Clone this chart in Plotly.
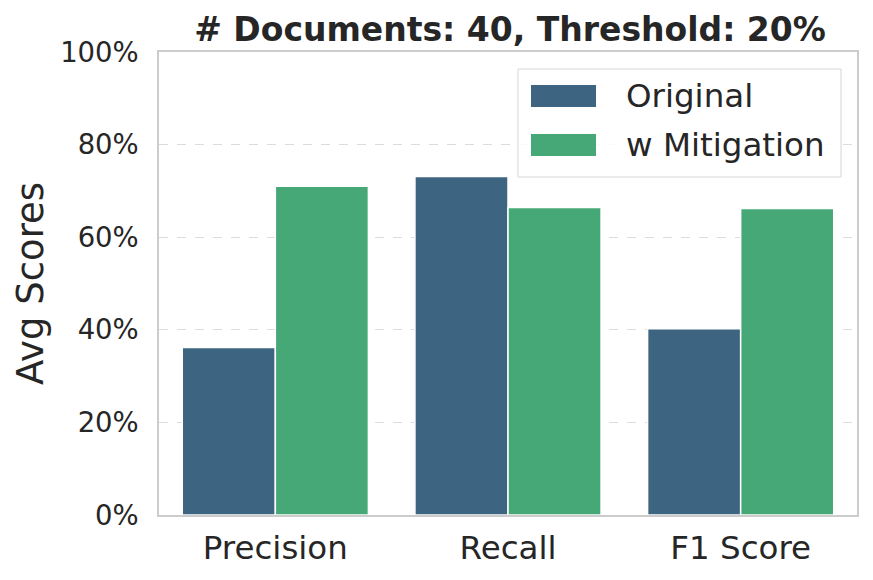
import plotly.graph_objects as go

categories = ["Precision", "Recall", "F1 Score"]
series_names = ["Original", "w Mitigation"]
original = [0.362, 0.731, 0.402]
mitigation = [0.710, 0.664, 0.662]
y_ticks = [0, 0.2, 0.4, 0.6, 0.8, 1.0]
y_tick_labels = ["0%", "20%", "40%", "60%", "80%", "100%"]
colors = ["#3d6480", "#46a877"]
title = "# Documents: 40, Threshold: 20%"

FONT = "DejaVu Sans"
TXT = "#262626"

fig = go.Figure()
for name, vals, col in zip(series_names, [original, mitigation], colors):
    fig.add_trace(go.Bar(x=categories, y=vals, name=name, marker=dict(color=col, line=dict(color="white", width=1.5)),
                         showlegend=False))

W, H = 873, 580
ml, mr, mt, mb = 159, 16, 52, 65
pw, ph = W - ml - mr, H - mt - mb

def px(x):
    return (x - ml) / pw

def py(y):
    return (H - mb - y) / ph

shapes = [
    dict(type="rect", xref="paper", yref="paper", x0=px(518), x1=px(841), y0=py(177), y1=py(69),
         line=dict(color="#d6d6d6", width=1), fillcolor="rgba(255,255,255,0.85)", layer="above"),
]
annotations = []
sw = [(85, 107), (134, 156)]
for (t, b), col, name in zip(sw, colors, series_names):
    shapes.append(dict(type="rect", xref="paper", yref="paper", x0=px(531), x1=px(596), y0=py(b), y1=py(t),
                       line=dict(width=0), fillcolor=col, layer="above"))
    annotations.append(dict(xref="paper", yref="paper", x=px(624), y=py((t + b) / 2), text=name, showarrow=False,
                            xanchor="left", yanchor="middle", font=dict(family=FONT, size=32.5, color=TXT)))

fig.update_layout(
    width=W, height=H,
    margin=dict(l=ml, r=mr, t=mt, b=mb),
    paper_bgcolor="white", plot_bgcolor="white",
    barmode="group", bargap=0.2, bargroupgap=0,
    title=dict(text="<b>" + title + "</b>", x=px(510), xref="paper", xanchor="center", y=1 - 29 / H, yanchor="middle",
               font=dict(family=FONT, size=33, color=TXT)),
    font=dict(family=FONT, color=TXT),
    shapes=shapes, annotations=annotations,
)
fig.update_xaxes(showgrid=False, showline=True, linecolor="#cccccc", linewidth=1.5, mirror=True,
                 tickfont=dict(family=FONT, size=32.5, color=TXT), ticks="", ticklabelstandoff=3)
fig.update_yaxes(range=[0, 1], tickvals=y_ticks, ticktext=y_tick_labels, showgrid=True, gridcolor="#dcdcdc",
                 griddash="dash", gridwidth=1, showline=True, linecolor="#cccccc", linewidth=1.5, mirror=True,
                 zeroline=False, ticks="", ticklabelstandoff=13,
                 tickfont=dict(family=FONT, size=27.5, color=TXT),
                 title=dict(text="Avg Scores", font=dict(family=FONT, size=37, color=TXT), standoff=5))

fig.write_html("out.html")
